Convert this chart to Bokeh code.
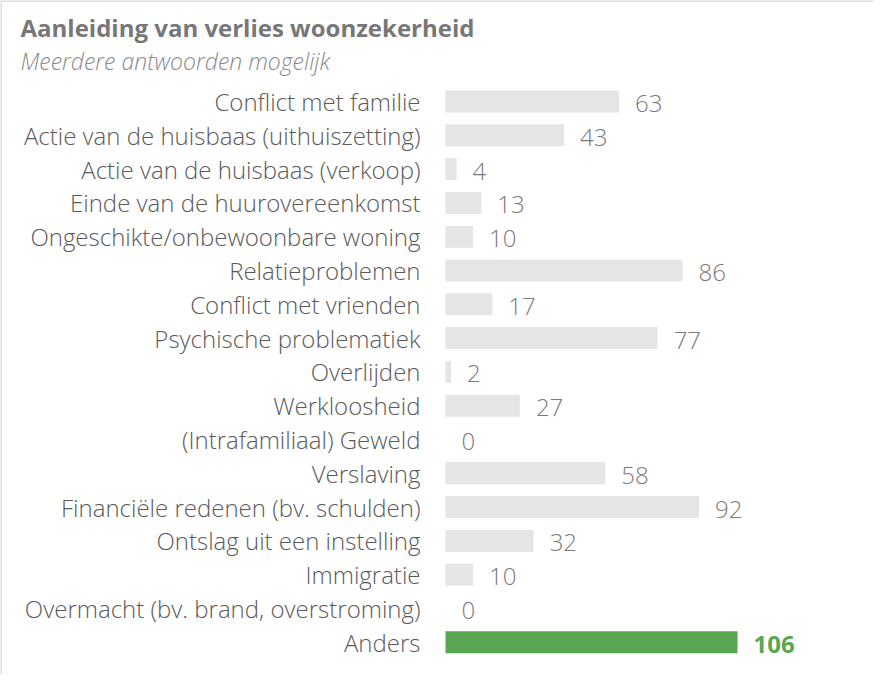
from bokeh.plotting import figure
from bokeh.models import ColumnDataSource, Range1d, Label, Span
from bokeh.core.properties import value
from bokeh.embed import file_html
from bokeh.resources import INLINE

categories = [
    "Conflict met familie",
    "Actie van de huisbaas (uithuiszetting)",
    "Actie van de huisbaas (verkoop)",
    "Einde van de huurovereenkomst",
    "Ongeschikte/onbewoonbare woning",
    "Relatieproblemen",
    "Conflict met vrienden",
    "Psychische problematiek",
    "Overlijden",
    "Werkloosheid",
    "(Intrafamiliaal) Geweld",
    "Verslaving",
    "Financiële redenen (bv. schulden)",
    "Ontslag uit een instelling",
    "Immigratie",
    "Overmacht (bv. brand, overstroming)",
    "Anders",
]
counts = [63, 43, 4, 13, 10, 86, 17, 77, 2, 27, 0, 58, 92, 32, 10, 0, 106]
highlight = "Anders"

title_text = "Aanleiding van verlies woonzekerheid"
subtitle_text = "Meerdere antwoorden mogelijk"

# ---- layout (pixels) ----
W, H = 873, 674
SX = 2.755          # px per count unit
X0 = 445            # canvas px where value 0 sits
SY = 33.8           # px per category row
Y0 = 101            # canvas px (from top) of first row centre

def px_x(px):
    return (px - X0) / SX

def px_y(py):
    return (py - Y0) / SY

idx = list(range(len(categories)))
normal = [i for i, c in enumerate(categories) if c != highlight]
hi = [i for i, c in enumerate(categories) if c == highlight]

src_norm = ColumnDataSource(dict(y=[idx[i] for i in normal],
                                 v=[counts[i] for i in normal],
                                 lab=[str(counts[i]) for i in normal]))
src_hi = ColumnDataSource(dict(y=[idx[i] for i in hi],
                               v=[counts[i] for i in hi],
                               lab=[str(counts[i]) for i in hi]))
src_cat = ColumnDataSource(dict(y=idx, cat=categories))

p = figure(width=W, height=H, output_backend="svg", toolbar_location=None,
           x_range=Range1d(px_x(0), px_x(W)), y_range=Range1d(px_y(H), px_y(0)),
           x_axis_location=None, y_axis_location=None, min_border=0,
           outline_line_color=None, background_fill_color="white",
           border_fill_color="white")
p.xgrid.visible = False
p.ygrid.visible = False

font = value("Open Sans")
LIGHT = "300 24px"

p.hbar(y="y", left=0, right="v", height=0.65, source=src_norm,
       fill_color="#e5e5e5", line_color=None)
p.hbar(y="y", left=0, right="v", height=0.65, source=src_hi,
       fill_color="#5aa552", line_color=None)

p.text(x=0, y="y", text="cat", source=src_cat, text_font=font,
       text_font_size=LIGHT, text_color="#5a5a5a", text_align="right",
       text_baseline="middle", x_offset=-25, y_offset=0)

p.text(x="v", y="y", text="lab", source=src_norm, text_font=font,
       text_font_size=LIGHT, text_color="#7a7a7a", text_align="left",
       text_baseline="middle", x_offset=16, y_offset=2)
p.text(x="v", y="y", text="lab", source=src_hi, text_font=font,
       text_font_size="24px", text_color="#5aa552", text_font_style="bold",
       text_align="left", text_baseline="middle", x_offset=16, y_offset=2)

p.add_layout(Label(x=px_x(20), y=px_y(27), text=title_text, text_font="Open Sans",
                   text_font_size="24px", text_font_style="bold",
                   text_color="#777777", text_baseline="middle"))
p.add_layout(Label(x=px_x(20), y=px_y(60), text=subtitle_text, text_font="Open Sans",
                   text_font_size="300 23px", text_font_style="italic",
                   text_color="#8a8a8a", text_baseline="middle"))

p.add_layout(Span(location=px_y(0.5), dimension="width", line_color="#dddddd", line_width=2))
p.add_layout(Span(location=px_x(0.5), dimension="height", line_color="#dddddd", line_width=2))

open("out.html", "w").write(file_html(p, INLINE))
